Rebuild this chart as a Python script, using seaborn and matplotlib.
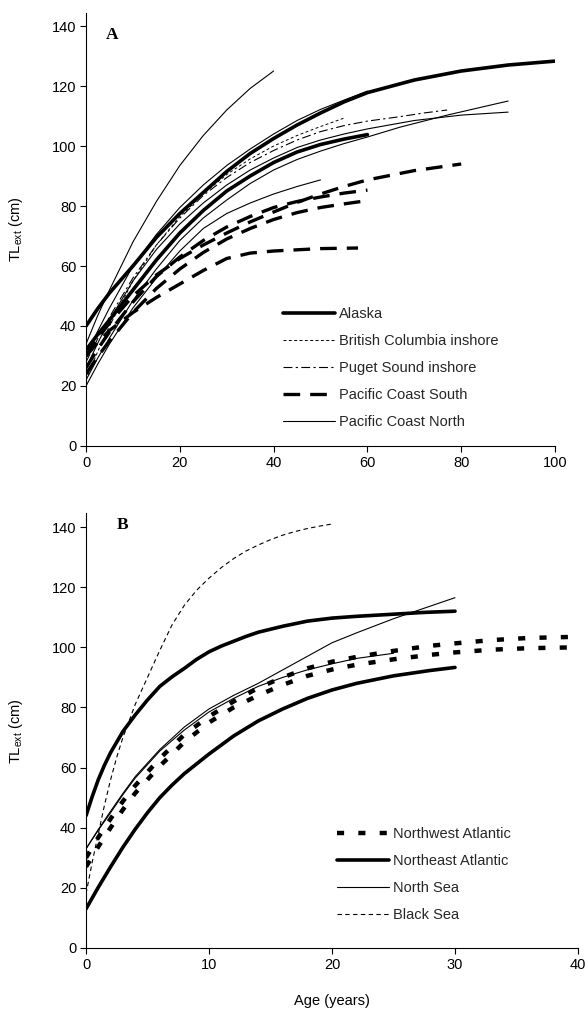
import matplotlib
matplotlib.use("Agg")
import matplotlib.pyplot as plt
import seaborn as sns

sns.set_theme(style="ticks")
plt.rcParams["font.family"] = ["Liberation Sans", "DejaVu Sans"]
plt.rcParams["mathtext.fontset"] = "custom"
plt.rcParams["mathtext.rm"] = "Liberation Sans"
plt.rcParams["mathtext.it"] = "Liberation Sans:italic"
plt.rcParams["mathtext.bf"] = "Liberation Sans:bold"

# ---------------- Panel A data (age in years, TLext in cm) ----------------
ak1_age = [0, 2.5, 5, 10, 15, 20, 25, 30, 35, 40, 45, 50, 55, 60, 70, 80, 90, 100]
ak1_len = [40, 45.8, 51, 60, 69.5, 77.5, 84.5, 91.5, 97.5, 102.5, 107, 111, 114.7, 117.8, 122, 125, 127, 128.3]
ak2_age = [0, 2.5, 5, 10, 15, 20, 25, 30, 35, 40, 45, 50, 55, 60]
ak2_len = [32, 37.2, 42, 52, 62, 71, 78.5, 85, 90, 94.5, 98, 100.5, 102.3, 103.8]

bc1_age = [0, 2.5, 5, 10, 15, 20, 25, 30, 35, 40, 45, 50, 55]
bc1_len = [22, 31.5, 40, 55, 67, 76.5, 84, 90.5, 95.7, 100, 103.5, 106.5, 109.3]

ps1_age = [0, 2.5, 5, 10, 15, 20, 25, 30, 35, 40, 45, 50, 55, 60, 67, 72, 77]
ps1_len = [28, 35.8, 43, 56, 67, 76, 83.5, 89.5, 94.5, 98.5, 102, 104.8, 106.8, 108.3, 109.8, 111, 112]

pcs1_age = [0, 2.5, 5, 10, 15, 20, 25, 30, 35, 40, 45, 50, 55, 60, 70, 80]
pcs1_len = [30, 35.8, 41, 50, 57, 62.5, 67, 71, 74.7, 78, 81.2, 84, 86.5, 88.7, 91.8, 94]
pcs2_age = [0, 2.5, 5, 10, 15, 20, 25, 30, 35, 40, 45, 50, 55, 60]
pcs2_len = [26, 32.3, 38, 48, 56.5, 63, 68.5, 73, 76.5, 79.5, 81.5, 83, 84.3, 85.3]
pcs3_age = [0, 2.5, 5, 10, 15, 20, 25, 30, 35, 40, 45, 50, 55, 60]
pcs3_len = [24, 29.8, 35, 44.5, 52.5, 59, 64.5, 69, 72.5, 75.5, 77.8, 79.5, 80.7, 81.8]
pcs4_age = [0, 2.5, 5, 10, 15, 20, 25, 30, 35, 40, 45, 50, 58]
pcs4_len = [30, 34.5, 38.5, 44.5, 49.5, 54, 58.5, 62.5, 64.3, 65, 65.4, 65.8, 66]

pcn1_age = [0, 2.5, 5, 10, 15, 20, 25, 30, 35, 40]
pcn1_len = [34, 43.5, 52, 68, 81.5, 93.5, 103.5, 112, 119.2, 125]
pcn2_age = [0, 2.5, 5, 10, 15, 20, 25, 30, 35, 40, 45, 50, 55, 60, 67, 77, 90]
pcn2_len = [22, 29.3, 36, 48.5, 59, 68.5, 76, 82, 87.5, 92, 95.5, 98.3, 100.8, 103, 106.3, 110.3, 115]
pcn3_age = [0, 2.5, 5, 10, 15, 20, 25, 30, 35, 40, 45, 50, 55, 60, 70, 80, 90]
pcn3_len = [26, 34.3, 42, 55, 65.5, 74, 81, 87, 92, 96, 99.5, 102, 104, 105.7, 108.5, 110.3, 111.3]
pcn4_age = [0, 2.5, 5, 10, 15, 20, 25, 30, 35, 40, 45, 50, 55, 60]
pcn4_len = [30, 38.3, 46, 60, 70.5, 79.5, 87, 93.5, 99, 104, 108.5, 112.2, 115.3, 118.3]
pcn5_age = [0, 2.5, 5, 10, 15, 20, 25, 30, 35, 40, 45, 50]
pcn5_len = [20, 27.3, 34, 46, 56, 65, 72.5, 77.5, 81, 84, 86.5, 88.7]

# ---------------- Panel B data ----------------
nwa1_age = [0, 1, 2, 3, 4, 6, 8, 10, 12, 14, 16, 18, 20, 22, 25, 28, 30, 33, 36, 40]
nwa1_len = [30, 36.8, 43, 48.8, 54, 63, 71, 77, 82, 86.5, 90, 93, 95.2, 96.8, 98.8, 100.5, 101.3, 102.4, 103.1, 103.5]
nwa2_age = [0, 1, 2, 3, 4, 6, 8, 10, 12, 14, 16, 18, 20, 22, 25, 28, 30, 33, 36, 40]
nwa2_len = [27, 33.7, 40, 46, 51.5, 60.5, 68.5, 75, 80, 84, 87.5, 90.5, 92.6, 94.2, 96, 97.5, 98.3, 99.2, 99.7, 100]

nea1_age = [0, 0.5, 1, 1.5, 2, 3, 4, 5, 6, 7, 8, 9, 10, 11, 12, 13, 14, 16, 18, 20, 22, 25, 27.5, 30]
nea1_len = [44, 50.3, 56, 60.8, 65, 72, 77.5, 82.5, 87, 90.2, 93, 96, 98.5, 100.4, 102, 103.6, 105, 107, 108.7, 109.7, 110.3, 111, 111.6, 112]
nea2_age = [0, 1, 2, 3, 4, 5, 6, 7, 8, 10, 12, 14, 16, 18, 20, 22, 25, 28, 30]
nea2_len = [13, 20.2, 27, 33.5, 39.5, 45, 50, 54.2, 58, 64.5, 70.5, 75.5, 79.5, 83, 85.8, 88, 90.5, 92.3, 93.3]

ns1_age = [0, 1, 2, 3, 4, 6, 8, 10, 12, 14, 16, 18, 20, 22, 25, 28, 30]
ns1_len = [33, 39.4, 45.5, 51.4, 57, 66, 73.5, 79.5, 84, 88, 92.5, 97, 101.5, 104.8, 109.5, 113.7, 116.5]
ns2_age = [0, 1, 2, 3, 4, 6, 8, 10, 12, 14, 16, 18, 20, 22, 25]
ns2_len = [33, 39.2, 45, 51, 56.5, 65.5, 72.5, 78.5, 83, 87, 90, 92.5, 94.5, 96.3, 98]

bs_age = [0, 0.5, 1, 1.5, 2, 2.5, 3, 4, 5, 6, 7, 8, 9, 10, 11, 12, 13, 14, 15, 16, 17, 18, 19, 20]
bs_len = [18, 28.5, 38, 47.5, 56, 63.5, 70, 81, 90, 99, 107.5, 114, 119, 123, 126.5, 129.5, 132, 134, 135.8, 137.3, 138.5, 139.5, 140.3, 141]

labels_a = ["Alaska", "British Columbia inshore", "Puget Sound inshore",
            "Pacific Coast South", "Pacific Coast North"]
labels_b = ["Northwest Atlantic", "Northeast Atlantic", "North Sea", "Black Sea"]

FS = 10.5
K = "black"

fig = plt.figure(figsize=(5.88, 10.18), dpi=100)
axA = fig.add_axes([0.1463, 0.5619, 0.7976, 0.4258])
axB = fig.add_axes([0.1463, 0.0688, 0.8367, 0.4268])


def draw(ax, x, y, label=None, **kw):
    sns.lineplot(x=x, y=y, ax=ax, color=K, legend=False, errorbar=None,
                 label=label, **kw)


st_alaska = dict(lw=2.6, linestyle="-")
st_bc = dict(lw=0.7, linestyle=(0, (3, 2.5)))
st_ps = dict(lw=0.8, linestyle=(0, (8, 3, 2, 3)))
st_pcs = dict(lw=2.4, linestyle=(0, (5, 3)))
st_pcn = dict(lw=0.8, linestyle="-")

# Panel A
draw(axA, pcn1_age, pcn1_len, label=labels_a[4], **st_pcn)
draw(axA, pcn2_age, pcn2_len, **st_pcn)
draw(axA, pcn3_age, pcn3_len, **st_pcn)
draw(axA, pcn4_age, pcn4_len, **st_pcn)
draw(axA, pcn5_age, pcn5_len, **st_pcn)
draw(axA, bc1_age, bc1_len, label=labels_a[1], **st_bc)
draw(axA, ps1_age, ps1_len, label=labels_a[2], **st_ps)
draw(axA, pcs1_age, pcs1_len, label=labels_a[3], **st_pcs)
draw(axA, pcs2_age, pcs2_len, **st_pcs)
draw(axA, pcs3_age, pcs3_len, **st_pcs)
draw(axA, pcs4_age, pcs4_len, **st_pcs)
draw(axA, ak1_age, ak1_len, label=labels_a[0], **st_alaska)
draw(axA, ak2_age, ak2_len, **st_alaska)

# Panel B
st_nwa = dict(lw=3.2, linestyle=(0, (1.6, 3.2)))
st_nea = dict(lw=2.6, linestyle="-")
st_ns = dict(lw=0.8, linestyle="-")
st_bs = dict(lw=0.8, linestyle=(0, (4, 3)))
draw(axB, bs_age, bs_len, label=labels_b[3], **st_bs)
draw(axB, ns1_age, ns1_len, label=labels_b[2], **st_ns)
draw(axB, ns2_age, ns2_len, **st_ns)
draw(axB, nea1_age, nea1_len, label=labels_b[1], **st_nea)
draw(axB, nea2_age, nea2_len, **st_nea)
draw(axB, nwa1_age, nwa1_len, label=labels_b[0], **st_nwa)
draw(axB, nwa2_age, nwa2_len, **st_nwa)


def style_axes(ax, xmax, xstep):
    ax.set_xlim(0, xmax)
    ax.set_ylim(0, 144.5)
    ax.set_xticks(range(0, xmax + 1, xstep))
    ax.set_yticks(range(0, 141, 20))
    sns.despine(ax=ax)
    for s in ("left", "bottom"):
        ax.spines[s].set_color(K)
        ax.spines[s].set_linewidth(0.8)
    ax.tick_params(direction="out", length=4, width=0.8, color=K,
                   labelsize=FS, labelcolor=K, pad=3)
    ax.set_ylabel(r"TL$_{\mathrm{ext}}$ (cm)", fontsize=FS, color=K, labelpad=19)
    ax.set_xlabel("")
    ax.set_facecolor("white")


style_axes(axA, 100, 20)
style_axes(axB, 40, 10)
axB.set_xlabel("Age (years)", fontsize=FS, color=K, labelpad=16)

axA.text(0.055, 0.948, "A", transform=axA.transAxes, ha="center", va="center",
         fontsize=12.5, fontweight="bold", family="Liberation Serif", color=K)
axB.text(0.075, 0.973, "B", transform=axB.transAxes, ha="center", va="center",
         fontsize=12.5, fontweight="bold", family="Liberation Serif", color=K)


def make_legend(ax, order, anchor):
    h, l = ax.get_legend_handles_labels()
    d = dict(zip(l, h))
    ax.legend([d[o] for o in order], order, loc="upper left",
              bbox_to_anchor=anchor, frameon=False, fontsize=FS,
              handlelength=3.6, handletextpad=0.25, labelspacing=0.88,
              borderpad=0, borderaxespad=0)


make_legend(axA, labels_a, (0.42, 0.32))
make_legend(axB, labels_b, (0.51, 0.278))

fig.savefig("out.png", dpi=100, facecolor="white")
